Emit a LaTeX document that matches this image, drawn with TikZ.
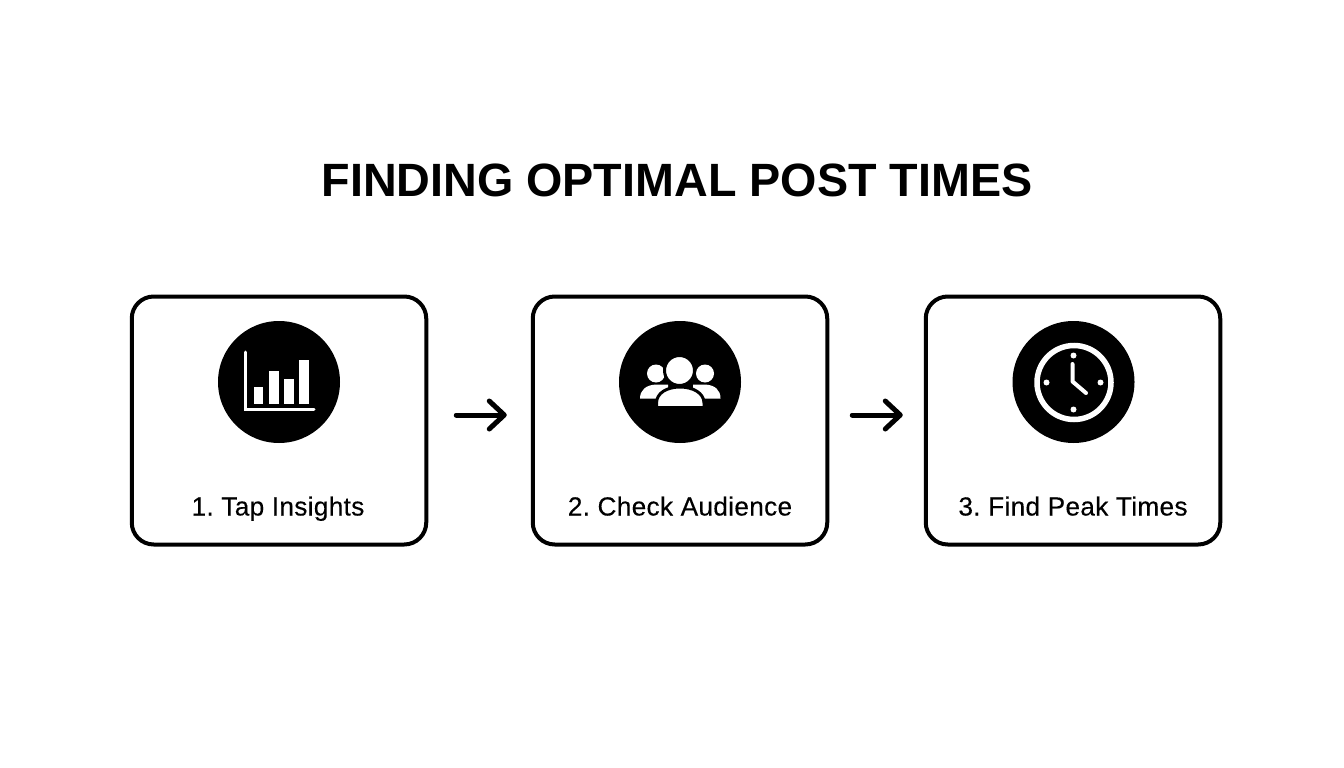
\documentclass[tikz,border=0pt]{standalone}
\usepackage{fontspec}
\setmainfont{Liberation Sans}
\newfontfamily\labelfont[LetterSpace=1.2,FakeBold=0.25]{Liberation Sans}
\usepackage{tikz}
\usetikzlibrary{arrows.meta}
\tikzstyle{stepbox} = [rectangle, draw, line width=4pt, rounded corners=22pt, minimum width=294.5pt, minimum height=248pt]
\tikzstyle{badge} = [circle, fill=black, minimum size=122pt, inner sep=0pt]
\tikzstyle{steplabel} = [font=\labelfont\frenchspacing\fontsize{26.2}{30}\selectfont, inner sep=0pt]
\tikzstyle{line} = [draw, line width=5pt, line cap=round, -{Straight Barb[length=15pt,width=28pt,round]}]
\tikzstyle{glyph} = [fill=white, draw=none]
\begin{document}
\begin{tikzpicture}[x=1pt, y=-1pt, node distance = 401pt]
	\useasboundingbox (0,0) rectangle (1344,768);
	% Place nodes
	\node [font=\bfseries\fontsize{46.7}{54}\selectfont, inner sep=0pt] (title) at (677,180.5) {FINDING OPTIMAL POST TIMES};
	\node [stepbox] (insights) at (279,420.5) {};
	\node [stepbox, right of=insights] (audience) {};
	\node [stepbox, right of=audience, node distance=393pt] (peak) {};
	\node [badge, above of=insights, node distance=38.5pt] (chart) {};
	\node [badge, above of=audience, node distance=38.5pt] (people) {};
	\node [badge, above of=peak, node distance=38.5pt, xshift=0.5pt] (clock) {};
	\node [steplabel, below of=insights, node distance=95pt, anchor=base, xshift=-1pt] (insightslabel) {1. Tap Insights};
	\node [steplabel, below of=audience, node distance=95pt, anchor=base] (audiencelabel) {2. Check Audience};
	\node [steplabel, below of=peak, node distance=95pt, anchor=base] (peaklabel) {3. Find Peak Times};
	% Draw edges
	\path [line, shorten <=28pt, shorten >=24pt] ([yshift=5.5pt]insights.east) -- ([yshift=5.5pt]audience.west);
	\path [line, shorten <=23pt, shorten >=21pt] ([yshift=5.5pt]audience.east) -- ([yshift=5.5pt]peak.west);
	% Chart icon
	\draw [white, line width=3pt, line cap=round] (245.5,352) -- (245.5,409.5) -- (314,409.5);
	\fill [white] (253.5,386.5) rectangle (263,403.5);
	\fill [white] (268.5,371) rectangle (278.5,403.5);
	\fill [white] (283.5,378.5) rectangle (293.5,403.5);
	\fill [white] (298.5,360) rectangle (308.5,403.5);
	% People icon
	\fill [glyph] (656,373.5) circle (9pt);
	\fill [glyph] (705,373.5) circle (9pt);
	\fill [glyph] (640,398.5) .. controls (640,390) and (646,385) .. (656,384.5) -- (668,384.5) -- (668,398.5) -- cycle;
	\fill [glyph] (720.5,398.5) .. controls (720.5,390) and (715,385) .. (705,384.5) -- (693,384.5) -- (693,398.5) -- cycle;
	\draw [fill=white, draw=black, line width=3pt] (656.5,407.5) -- (656.5,403) .. controls (656.5,393) and (667,387) .. (680,387) .. controls (693,387) and (704,393) .. (704,403) -- (704,407.5) -- cycle;
	\draw [fill=white, draw=black, line width=3pt] (679.5,370.5) circle (15pt);
	% Clock icon
	\draw [white, line width=5.5pt] (1074,382.5) circle (37pt);
	\fill [glyph] (1073.5,355.5) circle (3pt);
	\fill [glyph] (1073.5,409.5) circle (3pt);
	\fill [glyph] (1046.5,382.5) circle (3pt);
	\fill [glyph] (1100.5,382.5) circle (3pt);
	\draw [white, line width=4pt, line cap=round, line join=round] (1072.5,364) -- (1072.5,381.5) -- (1086,393);
\end{tikzpicture}
\end{document}
